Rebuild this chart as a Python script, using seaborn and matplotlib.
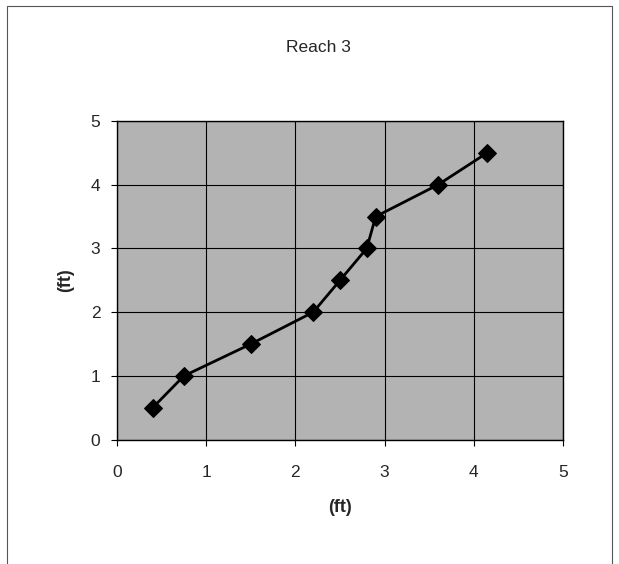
import matplotlib
matplotlib.use("Agg")
import matplotlib.pyplot as plt
import seaborn as sns
import pandas as pd
from matplotlib.patches import Rectangle

title = "Reach 3"
x_label = "(ft)"
y_label = "(ft)"
x_vals = [0.4, 0.75, 1.5, 2.2, 2.5, 2.8, 2.9, 3.6, 4.15]
y_vals = [0.5, 1.0, 1.5, 2.0, 2.5, 3.0, 3.5, 4.0, 4.5]
ticks = [0, 1, 2, 3, 4, 5]

sns.set_style("white")
plt.rcParams['font.family'] = ['Liberation Sans', 'DejaVu Sans']

df = pd.DataFrame({"x": x_vals, "y": y_vals})

fig = plt.figure(figsize=(6.19, 5.64), dpi=100)
ax = fig.add_axes([0.189, 0.2205, 0.7205, 0.565])

# outer frame
fig.patches.append(Rectangle((0.012, -0.05), 0.977, 1.04, transform=fig.transFigure,
                             fill=False, edgecolor="#555555", linewidth=0.8))

ax.set_facecolor("#b3b3b3")
sns.lineplot(data=df, x="x", y="y", sort=False, ax=ax, color="black",
             linewidth=2, marker="D", markersize=9, markeredgecolor="black",
             markerfacecolor="black", zorder=5)

ax.set_xlim(0, 5)
ax.set_ylim(0, 5)
ax.set_xticks(ticks)
ax.set_yticks(ticks)
ax.set_xticklabels([str(t) for t in ticks], fontsize=12.5)
ax.set_yticklabels([str(t) for t in ticks], fontsize=12.5)
ax.grid(True, color="black", linewidth=0.8)
ax.set_axisbelow(True)
for s in ax.spines.values():
    s.set_color("black")
    s.set_linewidth(1.0)
ax.tick_params(axis="x", direction="out", length=4, width=0.8, color="black",
               bottom=True, pad=14)
ax.tick_params(axis="y", direction="out", length=4, width=0.8, color="black",
               left=True, pad=8)

ax.set_xlabel(x_label, fontsize=13, fontweight="bold", labelpad=14)
ax.set_ylabel(y_label, fontsize=13, fontweight="bold", labelpad=12)
fig.text(0.514, 0.915, title, ha="center", va="center", fontsize=12.5)

fig.savefig("out.png", dpi=100, facecolor="white")
